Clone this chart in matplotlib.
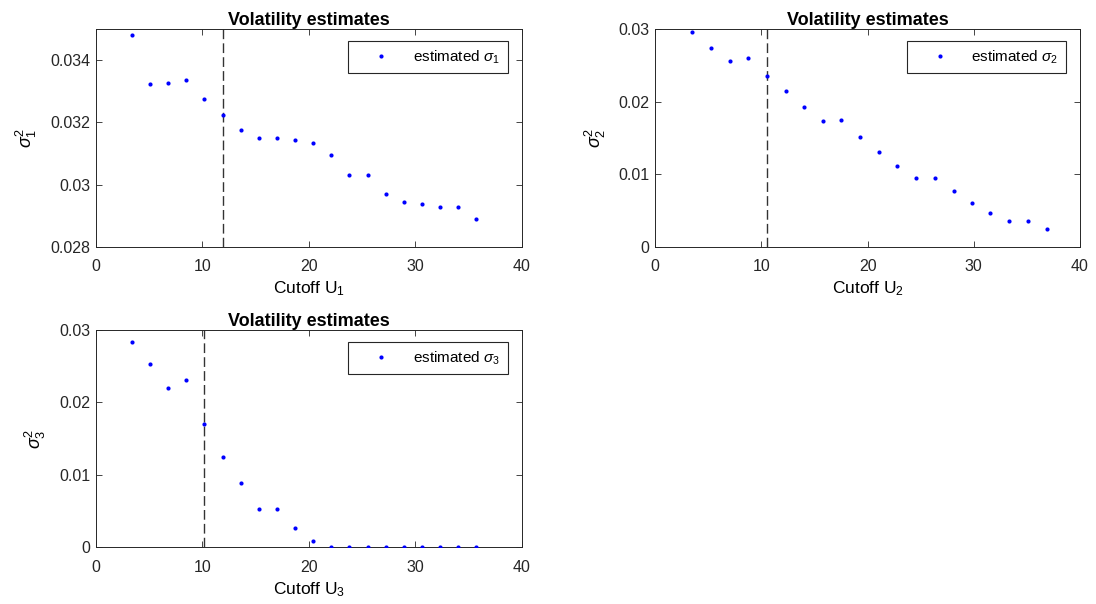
#!/usr/bin/env python

import matplotlib
matplotlib.use("Agg")
import matplotlib.pyplot as plt

plt.rcParams["font.family"] = ["Liberation Sans", "DejaVu Sans"]
plt.rcParams["mathtext.fontset"] = "custom"
plt.rcParams["mathtext.rm"] = "Liberation Sans"
plt.rcParams["mathtext.it"] = "Liberation Sans:italic"
plt.rcParams["mathtext.bf"] = "Liberation Sans:bold"

# cutoff values for each series
cutoff_1 = [3.38, 5.10, 6.80, 8.49, 10.18, 11.91, 13.60, 15.32, 17.01, 18.73,
            20.39, 22.11, 23.80, 25.53, 27.23, 28.92, 30.61, 32.33, 34.02, 35.71]
cutoff_2 = [3.48, 5.27, 7.00, 8.76, 10.52, 12.27, 14.03, 15.79, 17.51, 19.30,
            21.06, 22.79, 24.58, 26.34, 28.09, 29.85, 31.57, 33.33, 35.09, 36.85]
cutoff_3 = cutoff_1

# estimated variances
sigma2_1 = [0.03483, 0.03325, 0.03328, 0.03338, 0.03277, 0.03223, 0.03175, 0.03151,
            0.03151, 0.03142, 0.03134, 0.03096, 0.03032, 0.03032, 0.02971, 0.02945,
            0.02939, 0.02927, 0.02927, 0.02890]
sigma2_2 = [0.02966, 0.02745, 0.02566, 0.02607, 0.02354, 0.02148, 0.01927, 0.01734,
            0.01743, 0.01513, 0.01302, 0.01117, 0.00943, 0.00943, 0.00764, 0.00607,
            0.00469, 0.00350, 0.00350, 0.00244]
sigma2_3 = [0.02841, 0.02524, 0.02201, 0.02303, 0.01701, 0.01250, 0.00887, 0.00524,
            0.00532, 0.00270, 0.00091, 0.0, 0.0, 0.0, 0.0, 0.0, 0.0, 0.0, 0.0, 0.0]

# chosen cutoffs
chosen = [11.91, 10.52, 10.18]

ylims = [(0.028, 0.035), (0.0, 0.03), (0.0, 0.03)]
yticks = [[0.028, 0.030, 0.032, 0.034], [0, 0.01, 0.02, 0.03], [0, 0.01, 0.02, 0.03]]
yticklabels = [["0.028", "0.03", "0.032", "0.034"], ["0", "0.01", "0.02", "0.03"],
               ["0", "0.01", "0.02", "0.03"]]

W, H = 1096, 604
boxes = [(96, 29.3, 521.7, 246.7), (655.3, 29.3, 1080, 246.7), (96, 330, 521.7, 547.3)]
edge = "#262626"


def vol_plot(fig, box, x, y, cut, k, ylim, yt, ytl):
    x0, y0, x1, y1 = box
    ax = fig.add_axes([x0 / W, 1 - y1 / H, (x1 - x0) / W, (y1 - y0) / H])
    ax.plot(x, y, "o", color="blue", markersize=3, markeredgewidth=0,
            label=r"estimated $\sigma_%d$" % k, zorder=3)
    ax.axvline(cut, color="#333333", lw=1, dashes=(7, 3), zorder=2)
    ax.set_xlim(0, 40)
    ax.set_ylim(*ylim)
    ax.set_xticks([0, 10, 20, 30, 40])
    ax.set_yticks(yt)
    ax.set_yticklabels(ytl)
    ax.tick_params(direction="in", length=4, width=0.6, color=edge, labelsize=11.5,
                   top=True, right=True, labelcolor="#262626")
    ax.tick_params(axis="x", pad=9)
    ax.tick_params(axis="y", pad=4)
    for s in ax.spines.values():
        s.set_color(edge)
        s.set_linewidth(0.7)
    ax.set_title("Volatility estimates", fontsize=13, fontweight="bold", pad=3)
    ax.set_xlabel(r"Cutoff U$_%d$" % k, fontsize=12.5, labelpad=4)
    ax.set_ylabel(r"$\sigma^2_%d$" % k, fontsize=13, labelpad=8)
    leg = ax.legend(loc="upper right", bbox_to_anchor=(0.967, 0.947), borderaxespad=0,
                    fancybox=False, framealpha=1, edgecolor="#262626", fontsize=11,
                    handlelength=3.3, handletextpad=0.43, borderpad=0.5, numpoints=1)
    leg.get_frame().set_linewidth(0.8)
    return ax


fig = plt.figure(figsize=(W / 100, H / 100), dpi=100)
series = [(cutoff_1, sigma2_1), (cutoff_2, sigma2_2), (cutoff_3, sigma2_3)]
for i, (x, y) in enumerate(series):
    vol_plot(fig, boxes[i], x, y, chosen[i], i + 1, ylims[i], yticks[i], yticklabels[i])

fig.savefig("out.png", dpi=100)
